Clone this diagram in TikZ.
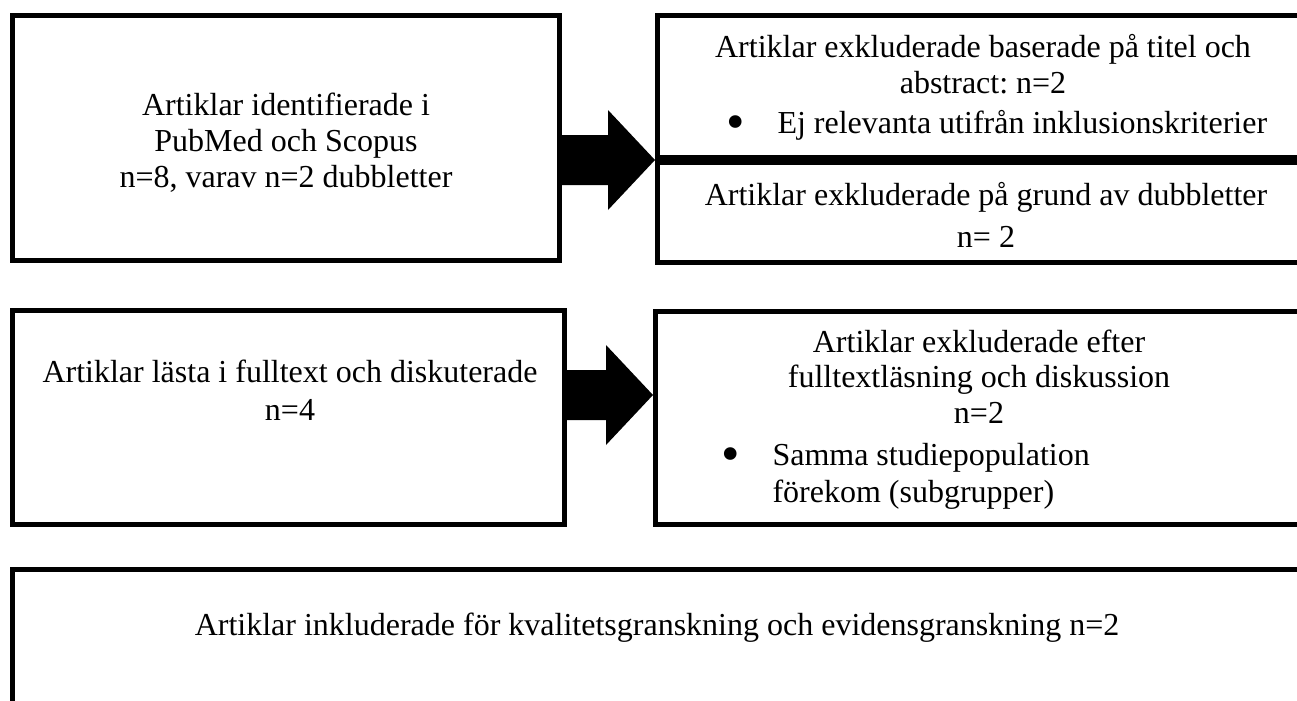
\documentclass[tikz,border=0pt]{standalone}
\usepackage{fontspec}
\setmainfont{Liberation Serif}
\usetikzlibrary{calc}
\newcommand{\itembullet}{\makebox[20.4pt][l]{\raisebox{-2.4pt}{\scalebox{1.65}{\textbullet}}}}

\begin{document}
\begin{tikzpicture}[x=0.4pt, y=0.4pt,
  flowbox/.style={draw, line width=2pt, inner sep=0pt},
  txt/.style={inner sep=0pt, align=center, anchor=base, font=\frenchspacing\fontsize{12.8pt}{#1}\selectfont},
  txt/.default=14.4pt,
  item/.style={inner sep=0pt, align=left, anchor=base west, font=\frenchspacing\fontsize{12.8pt}{#1}\selectfont},
  item/.default=14.8pt]
\useasboundingbox[fill=white] (0,0) rectangle (1297,-700);

\node[flowbox, minimum width=218.8pt, minimum height=98pt] (ident) at (286,-138) {};
\node[flowbox, minimum width=261pt, minimum height=56.8pt] (excl1) at (983.75,-86.5) {};
\node[flowbox, minimum width=261pt, minimum height=40pt] (dubb) at (983.75,-212.5) {};
\node[flowbox, minimum width=220.8pt, minimum height=85.6pt] (full) at (288.5,-417.5) {};
\node[flowbox, minimum width=261.8pt, minimum height=85.2pt] (excl2) at (982.75,-418) {};
\node[flowbox, minimum width=519pt, minimum height=60.2pt] (incl) at (661.25,-644.75) {};

% base anchor sits on the last line
\node[txt] (identtxt) at (286,-187) {Artiklar identifierade i\\PubMed och Scopus\\n=8, varav n=2 dubbletter};
\node[txt] (excl1txt) at (983,-93) {Artiklar exkluderade baserade på titel och\\abstract: n=2};
\node[item] (excl1item) at (726,-133) {\itembullet Ej relevanta utifrån inklusionskriterier};
\node[txt=16.8pt] (dubbtxt) at (986,-247) {Artiklar exkluderade på grund av dubbletter\\n= 2};
\node[txt=15.2pt] (fulltxt) at (290,-420) {Artiklar lästa i fulltext och diskuterade\\n=4};
\node[txt=14.2pt] (excl2txt) at (979,-423) {Artiklar exkluderade efter\\fulltextläsning och diskussion\\n=2};
\node[item] (excl2item) at (721,-502) {\itembullet Samma studiepopulation\\\hspace*{20.4pt}förekom (subgrupper)};
\node[txt] (incltxt) at (657,-635) {Artiklar inkluderade för kvalitetsgranskning och evidensgranskning n=2};

\coordinate (tipa) at (excl1.south west);
\coordinate (tipb) at ($(excl2.west)+(0,23)$);
\foreach \src/\tip in {ident/tipa, full/tipb}
  \fill ($(\src.east |- \tip)+(-2,25)$) -- ($(\tip)+(-47,25)$) -- ($(\tip)+(-47,50)$) -- (\tip)
    -- ($(\tip)+(-47,-50)$) -- ($(\tip)+(-47,-25)$) -- ($(\src.east |- \tip)+(-2,-25)$) -- cycle;
\end{tikzpicture}
\end{document}
